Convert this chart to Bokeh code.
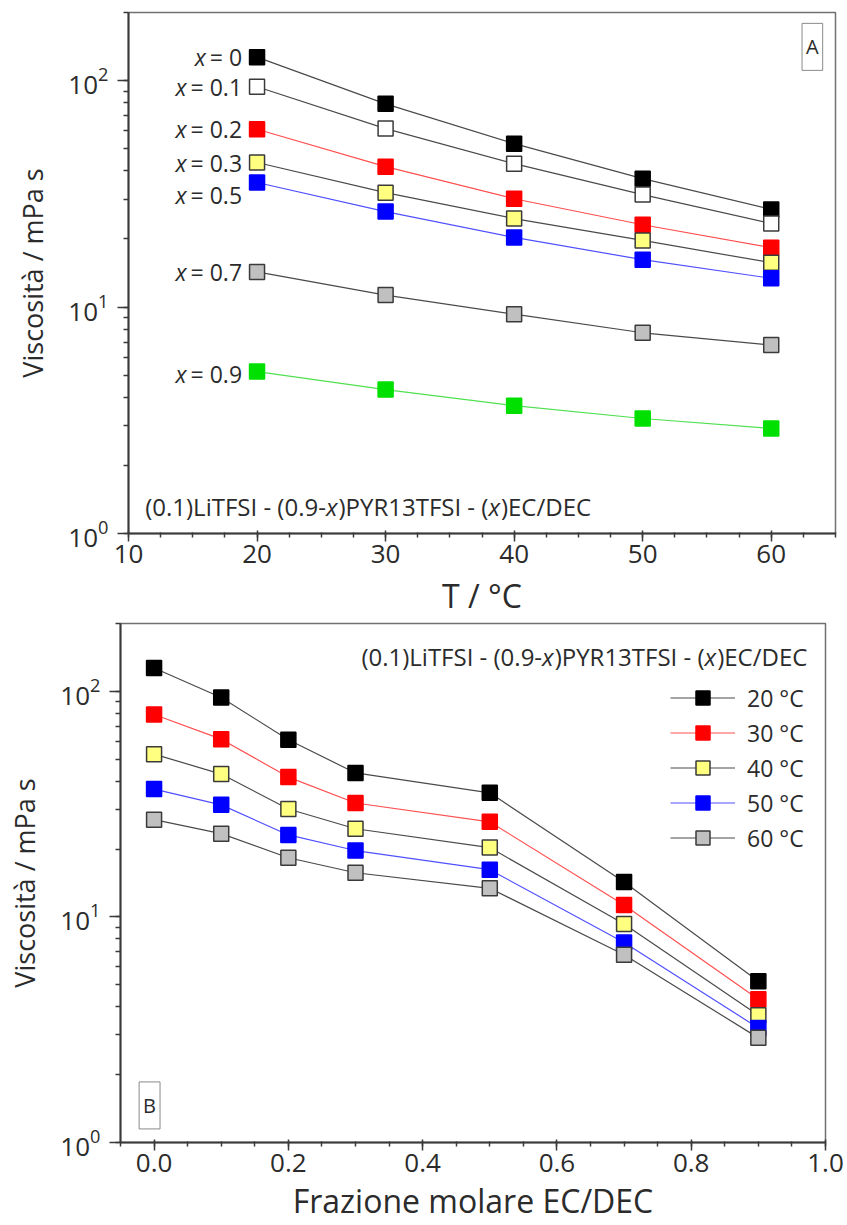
from bokeh.plotting import figure
from bokeh.models import (Range1d, Label, Legend, LegendItem, SingleIntervalTicker,
                          PrintfTickFormatter)
from bokeh.core.properties import value
from bokeh.embed import file_html
from bokeh.resources import INLINE

# ---------------- data ----------------
temperatures = [20, 30, 40, 50, 60]                 # °C
ec_fractions = [0.0, 0.1, 0.2, 0.3, 0.5, 0.7, 0.9]  # x (EC/DEC molar fraction)

# viscosity / mPa s for each composition, over temperatures
visc_x00 = [127, 79, 52.7, 36.9, 27.0]
visc_x01 = [94, 61.4, 43.0, 31.4, 23.4]
visc_x02 = [61.0, 41.7, 30.1, 23.1, 18.3]
visc_x03 = [43.5, 32.0, 24.6, 19.7, 15.7]
visc_x05 = [35.5, 26.4, 20.3, 16.2, 13.4]
visc_x07 = [14.3, 11.3, 9.3, 7.7, 6.8]
visc_x09 = [5.19, 4.32, 3.67, 3.22, 2.91]

composition_values = ["0", "0.1", "0.2", "0.3", "0.5", "0.7", "0.9"]
temperature_labels = ["20 °C", "30 °C", "40 °C", "50 °C", "60 °C"]
formula_segments = [("(0.1)LiTFSI - (0.9-", False), ("x", True),
                    (")PYR13TFSI - (", False), ("x", True), (")EC/DEC", False)]
x_title_a = "T / °C"
x_title_b = "Frazione molare EC/DEC"
y_title = "Viscosità / mPa s"

by_composition = [visc_x00, visc_x01, visc_x02, visc_x03, visc_x05, visc_x07, visc_x09]
by_temperature = [[s[j] for s in by_composition] for j in range(len(temperatures))]

# ---------------- styles ----------------
FONT = "Open Sans"
TXT = "#2b2b2b"
DARK = "#3a3a3a"
comp_styles = [
    dict(fill="#000000", edge="#000000", line="#4a4a4a"),
    dict(fill="#ffffff", edge="#3a3a3a", line="#4a4a4a"),
    dict(fill="#ff0000", edge="#ff0000", line="#ff5050"),
    dict(fill="#ffff80", edge="#3a3a3a", line="#4a4a4a"),
    dict(fill="#0000ff", edge="#0000ff", line="#5050ff"),
    dict(fill="#c0c0c0", edge="#3a3a3a", line="#4a4a4a"),
    dict(fill="#00e000", edge="#00e000", line="#50e050"),
]
label_dy = [0, 0, 0, 0, 13, 0, 2]
temp_styles = [
    dict(fill="#000000", edge="#000000", line="#4a4a4a"),
    dict(fill="#ff0000", edge="#ff0000", line="#ff5050"),
    dict(fill="#ffff80", edge="#3a3a3a", line="#4a4a4a"),
    dict(fill="#0000ff", edge="#0000ff", line="#5050ff"),
    dict(fill="#c0c0c0", edge="#3a3a3a", line="#4a4a4a"),
]

# ---------------- text width helper (for mixed italic text) ----------------
_W = {" ": .26, "(": .296, ")": .296, ".": .266, "-": .322, "=": .572, "/": .367,
      "x": .50, "L": .519, "i": .253, "T": .559, "F": .531, "S": .549, "I": .279,
      "P": .603, "Y": .556, "R": .62, "E": .556, "C": .635, "D": .722, "°": .428}
_font_cache = {}


def text_width(s, size):
    try:
        if size not in _font_cache:
            import subprocess
            from PIL import ImageFont
            path = subprocess.run(["fc-match", "-f", "%{file}", FONT],
                                  capture_output=True, text=True, timeout=5).stdout.strip()
            _font_cache[size] = ImageFont.truetype(path, size)
        return _font_cache[size].getlength(s)
    except Exception:
        return sum(_W.get(c, .572 if c.isdigit() else .55) for c in s) * size


def rich_text(p, x, y, segments, size, align="left", dx=0, dy=0, gap=0):
    widths = [text_width(t, size) + (gap if ital else 0) for t, ital in segments]
    start = dx if align == "left" else dx - sum(widths)
    off = start
    for (t, ital), w in zip(segments, widths):
        p.text(x=[x], y=[y], text=[t], x_offset=off, y_offset=dy,
               text_align="left", text_baseline="middle",
               text_font=value(FONT), text_font_size=f"{size}px",
               text_font_style="italic" if ital else "normal", text_color=TXT)
        off += w


def style_axes(p, xtitle, ytitle):
    p.xaxis.axis_label = xtitle
    p.yaxis.axis_label = ytitle
    for ax in (p.xaxis[0], p.yaxis[0]):
        ax.axis_label_text_font = FONT
        ax.axis_label_text_font_style = "normal"
        ax.axis_label_text_color = TXT
        ax.major_label_text_font = FONT
        ax.major_label_text_color = TXT
        ax.major_label_text_font_size = "26px"
        ax.axis_line_width = 2
        ax.axis_line_color = DARK
        ax.major_tick_line_color = DARK
        ax.minor_tick_line_color = DARK
        ax.major_tick_line_width = 1.5
        ax.minor_tick_line_width = 1.5
    p.xaxis.axis_label_text_font_size = "32px"
    p.yaxis.axis_label_text_font_size = "27px"
    p.xaxis.major_tick_in = 3
    p.xaxis.major_tick_out = 8
    p.xaxis.minor_tick_in = 1
    p.xaxis.minor_tick_out = 4
    p.yaxis.major_tick_in = 0
    p.yaxis.major_tick_out = 11
    p.yaxis.minor_tick_in = 0
    p.yaxis.minor_tick_out = 5
    p.xaxis.major_label_standoff = 3
    p.yaxis.major_label_standoff = 9
    p.yaxis.axis_label_standoff = 14
    p.xgrid.visible = False
    p.ygrid.visible = False
    p.outline_line_color = "#707070"
    p.outline_line_width = 1.5


def box_label(p, x, y, t):
    p.add_layout(Label(x=x, y=y, text=t, text_align="center", text_baseline="middle",
                       text_font=FONT, text_font_size="20px", text_color=TXT,
                       border_line_color="#8a8a8a", border_line_width=1,
                       padding=dict(left=4, right=4, top=10, bottom=10)))


# ---------------- panel A ----------------
p1 = figure(width=847, height=621, x_range=Range1d(10, 65), y_range=Range1d(1, 200),
            y_axis_type="log", output_backend="svg", toolbar_location=None,
            min_border_left=128, min_border_right=12, min_border_top=12, min_border_bottom=88)
style_axes(p1, x_title_a, y_title)
p1.xaxis.axis_label_standoff = 8
p1.xaxis.ticker = SingleIntervalTicker(interval=10, num_minor_ticks=4)

for vals, st in zip(by_composition, comp_styles):
    p1.line(temperatures, vals, line_color=st["line"], line_width=1.2)
for vals, st in zip(by_composition, comp_styles):
    p1.scatter(temperatures, vals, marker="square", size=15, fill_color=st["fill"],
               line_color=st["edge"], line_width=1.5)

for vals, comp, dy in zip(by_composition, composition_values, label_dy):
    rich_text(p1, temperatures[0], vals[0], [("x", True), (" = " + comp, False)], 23,
              align="right", dx=-9, dy=dy, gap=3)

rich_text(p1, 11.3, 1.316, formula_segments, 24, align="left")
box_label(p1, 63.2, 141, "A")

# ---------------- panel B ----------------
p2 = figure(width=847, height=604, x_range=Range1d(-0.05, 1.0), y_range=Range1d(1, 200),
            y_axis_type="log", output_backend="svg", toolbar_location=None,
            min_border_left=120, min_border_right=22, min_border_top=2, min_border_bottom=83)
style_axes(p2, x_title_b, y_title)
p2.xaxis.axis_label_standoff = 4
p2.xaxis.ticker = SingleIntervalTicker(interval=0.2, num_minor_ticks=4)
p2.xaxis.formatter = PrintfTickFormatter(format="%.1f")

items = []
for vals, lab, st in zip(by_temperature, temperature_labels, temp_styles):
    lr = p2.line(ec_fractions, vals, line_color=st["line"], line_width=1.2)
    sr = p2.scatter(ec_fractions, vals, marker="square", size=15, fill_color=st["fill"],
                    line_color=st["edge"], line_width=1.5)
    items.append(LegendItem(label=lab, renderers=[lr, sr]))

legend = Legend(items=items, location=(550, 287), glyph_width=65, glyph_height=35,
                label_height=35, spacing=0, padding=0, margin=0, label_standoff=12,
                label_text_font=FONT, label_text_font_size="23px", label_text_color=TXT,
                border_line_alpha=0, background_fill_alpha=0)
p2.add_layout(legend)

rich_text(p2, 0.973, 143, formula_segments, 24, align="right")
box_label(p2, -0.0067, 1.46, "B")

# two independent roots, stacked (so the two plot frames are not aligned to each other)
open("out.html", "w").write(file_html([p1, p2], INLINE))
